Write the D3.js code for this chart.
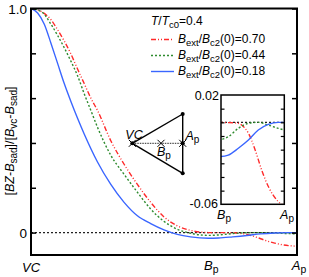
<!DOCTYPE html>
<html>
<head>
<meta charset="utf-8">
<script src="https://cdn.jsdelivr.net/npm/d3@7"></script>
<style>
  body { margin: 0; background: #fff; }
  svg { display: block; font-family: "Liberation Sans", Arial, sans-serif; }
</style>
</head>
<body>
<script>
// path coordinate along VC -> Bp -> Ap (Bp at 2/3)
var xRed = [0, 0.05, 0.075, 0.1, 0.125, 0.15, 0.175, 0.2, 0.225, 0.25, 0.3, 0.35, 0.4, 0.45, 0.5, 0.55, 0.6, 0.667, 0.75, 0.775, 0.811, 0.846, 0.881, 0.916, 0.968, 1];
var yRed = [1, 0.978, 0.95, 0.905, 0.855, 0.797, 0.73, 0.665, 0.6, 0.545, 0.41, 0.305, 0.215, 0.135, 0.07, 0.03, 0.01, 0.0, -0.0005, -0.002, -0.008, -0.02, -0.035, -0.047, -0.058, -0.061];

var xGreen = [0, 0.04, 0.075, 0.1, 0.125, 0.15, 0.175, 0.2, 0.225, 0.25, 0.3, 0.35, 0.4, 0.45, 0.5, 0.55, 0.6, 0.667, 0.705, 0.758, 0.811, 0.863, 0.916, 0.968, 1];
var yGreen = [1, 0.985, 0.93, 0.88, 0.825, 0.765, 0.7, 0.62, 0.545, 0.47, 0.345, 0.26, 0.18, 0.105, 0.05, 0.015, -0.003, -0.0125, -0.0105, -0.0044, -0.0007, 0, -0.002, -0.0044, -0.0056];

var xBlue = [0, 0.025, 0.05, 0.075, 0.1, 0.125, 0.15, 0.175, 0.2, 0.25, 0.3, 0.35, 0.4, 0.45, 0.5, 0.55, 0.6, 0.667, 0.705, 0.758, 0.811, 0.863, 0.916, 0.968, 1];
var yBlue = [1, 0.98, 0.93, 0.845, 0.755, 0.665, 0.585, 0.51, 0.44, 0.315, 0.215, 0.135, 0.075, 0.04, 0.012, -0.008, -0.019, -0.025, -0.024, -0.019, -0.013, -0.0056, -0.0015, 0, 0];

var legendLabels = ["0.70", "0.44", "0.18"];
var mainTicks = [0, 0.2, 0.4, 0.6, 0.8, 1.0];
var insetTicks = [0.01, 0, -0.01, -0.02, -0.03, -0.04, -0.05];

var width = 309, height = 277;

var svg = d3.select("body").append("svg")
    .attr("width", width)
    .attr("height", height);

var x = d3.scaleLinear().domain([0, 1]).range([31, 297]);
var y = d3.scaleLinear().domain([-0.1, 1.0]).range([255, 8.5]);

var series = [
  {xs: xRed, ys: yRed, color: "#ff2a2a", dash: "5,2,1,2,1,2", label: legendLabels[0]},
  {xs: xGreen, ys: yGreen, color: "#2e8b2e", dash: "2,2", label: legendLabels[1]},
  {xs: xBlue, ys: yBlue, color: "#3a66ff", dash: null, label: legendLabels[2]}
];
series.forEach(function(s) {
  s.pts = s.xs.map(function(v, i) { return [v, s.ys[i]]; });
});

// zero line
svg.append("line")
  .attr("x1", x(0)).attr("x2", x(1))
  .attr("y1", y(0)).attr("y2", y(0))
  .attr("stroke", "#222").attr("stroke-width", 1.2)
  .attr("stroke-dasharray", "2,2");

var line = d3.line()
  .x(function(d) { return x(d[0]); })
  .y(function(d) { return y(d[1]); })
  .curve(d3.curveMonotoneX);

var defs = svg.append("defs");
defs.append("clipPath").attr("id", "mainclip")
  .append("rect").attr("x", 31).attr("y", 8.5).attr("width", 266).attr("height", 246.5);

series.forEach(function(s) {
  svg.append("path")
    .attr("d", line(s.pts))
    .attr("clip-path", "url(#mainclip)")
    .attr("fill", "none")
    .attr("stroke", s.color)
    .attr("stroke-width", 1.4)
    .attr("stroke-dasharray", s.dash);
});

// frame
svg.append("rect")
  .attr("x", 31).attr("y", 8.5).attr("width", 266).attr("height", 246.5)
  .attr("fill", "none").attr("stroke", "#000").attr("stroke-width", 2);

// inward ticks left and right
svg.append("g").attr("transform", "translate(31,0)")
  .call(d3.axisRight(y).tickValues(mainTicks).tickSize(5).tickFormat(""))
  .call(function(g) { g.select(".domain").remove(); g.selectAll("line").attr("stroke-width", 1.5); });
svg.append("g").attr("transform", "translate(297,0)")
  .call(d3.axisLeft(y).tickValues(mainTicks).tickSize(5).tickFormat(""))
  .call(function(g) { g.select(".domain").remove(); g.selectAll("line").attr("stroke-width", 1.5); });

// tick labels
svg.append("text").attr("x", 27).attr("y", y(1) + 5).attr("text-anchor", "end")
  .attr("font-size", 13.5).text("1.0");
svg.append("text").attr("x", 27).attr("y", y(0) + 5).attr("text-anchor", "end")
  .attr("font-size", 13.5).text("0");

// x labels
function pointLabel(sel, main, sub, size) {
  sel.append("tspan").attr("font-style", "italic").text(main);
  if (sub) sel.append("tspan").attr("font-size", size * 0.8).attr("dy", 3).text(sub);
}
svg.append("text").attr("x", x(0)).attr("y", 272).attr("text-anchor", "middle")
  .attr("font-size", 13).call(pointLabel, "VC", null, 13);
svg.append("text").attr("x", x(2/3) + 3).attr("y", 270).attr("text-anchor", "middle")
  .attr("font-size", 13).call(pointLabel, "B", "p", 13);
svg.append("text").attr("x", x(1) + 2).attr("y", 270).attr("text-anchor", "middle")
  .attr("font-size", 13).call(pointLabel, "A", "p", 13);

// y label
var yl = svg.append("text")
  .attr("transform", "translate(14,141) rotate(-90)")
  .attr("text-anchor", "middle")
  .attr("font-size", 12.5);
yl.append("tspan").text("[");
yl.append("tspan").attr("font-style", "italic").text("B");
yl.append("tspan").attr("font-style", "italic").text("Z");
yl.append("tspan").text("-");
yl.append("tspan").attr("font-style", "italic").text("B");
yl.append("tspan").attr("font-size", 10).attr("dy", 3).text("sad");
yl.append("tspan").attr("dy", -3).text("]/[");
yl.append("tspan").attr("font-style", "italic").text("B");
yl.append("tspan").attr("font-size", 10).attr("dy", 3).text("vc");
yl.append("tspan").attr("dy", -3).text("-");
yl.append("tspan").attr("font-style", "italic").text("B");
yl.append("tspan").attr("font-size", 10).attr("dy", 3).text("sad");
yl.append("tspan").attr("dy", -3).text("]");

// legend
var lt = svg.append("text").attr("x", 151).attr("y", 25).attr("font-size", 12);
lt.append("tspan").attr("font-style", "italic").text("T");
lt.append("tspan").text("/");
lt.append("tspan").attr("font-style", "italic").text("T");
lt.append("tspan").attr("font-size", 9.5).attr("dy", 3).text("c0");
lt.append("tspan").attr("dy", -3).text("=0.4");

series.forEach(function(s, i) {
  var ly = 39.5 + i * 16;
  svg.append("line")
    .attr("x1", 151).attr("x2", 174).attr("y1", ly).attr("y2", ly)
    .attr("stroke", s.color).attr("stroke-width", 1.4)
    .attr("stroke-dasharray", s.dash);
  var t = svg.append("text").attr("x", 178).attr("y", ly + 3.5).attr("font-size", 12);
  t.append("tspan").attr("font-style", "italic").text("B");
  t.append("tspan").attr("font-size", 9.5).attr("dy", 3).text("ext");
  t.append("tspan").attr("dy", -3).text("/");
  t.append("tspan").attr("font-style", "italic").text("B");
  t.append("tspan").attr("font-size", 9.5).attr("dy", 3).text("c2");
  t.append("tspan").attr("dy", -3).text("(0)=" + s.label);
});

// triangle schematic
var tri = svg.append("g");
var pVC = [132.3, 143.3], pTop = [182.7, 114], pBot = [182.7, 173.3], pAp = [182.7, 143.3], pBp = [161, 143.3];
tri.append("line").attr("x1", pVC[0]).attr("y1", pVC[1]).attr("x2", pAp[0]).attr("y2", pAp[1])
  .attr("stroke", "#555").attr("stroke-width", 1.3).attr("stroke-dasharray", "1.5,1");
[[pVC, pTop], [pVC, pBot], [pTop, pBot]].forEach(function(e) {
  tri.append("line").attr("x1", e[0][0]).attr("y1", e[0][1]).attr("x2", e[1][0]).attr("y2", e[1][1])
    .attr("stroke", "#000").attr("stroke-width", 1.4);
});
[pVC, pTop, pBot, pAp].forEach(function(p) {
  tri.append("circle").attr("cx", p[0]).attr("cy", p[1]).attr("r", 2).attr("fill", "#000");
});
[pVC, pBp, pAp].forEach(function(p) {
  tri.append("path")
    .attr("d", "M" + (p[0] - 3.5) + "," + (p[1] - 3.5) + "l7,7M" + (p[0] - 3.5) + "," + (p[1] + 3.5) + "l7,-7")
    .attr("stroke", "#000").attr("stroke-width", 1);
});
tri.append("text").attr("x", 134).attr("y", 138.5).attr("text-anchor", "middle")
  .attr("font-size", 12.5).call(pointLabel, "VC", null, 12.5);
tri.append("text").attr("x", 185.5).attr("y", 140).attr("font-size", 12.5).call(pointLabel, "A", "p", 12.5);
tri.append("text").attr("x", 157).attr("y", 155.5).attr("font-size", 12.5).call(pointLabel, "B", "p", 12.5);

// inset
var ix = d3.scaleLinear().domain([2/3, 1]).range([221, 284.3]);
var iy = d3.scaleLinear().domain([-0.06, 0.02]).range([204.3, 95]);
var inset = svg.append("g");
inset.append("rect").attr("x", 221).attr("y", 95).attr("width", 63.3).attr("height", 109.3)
  .attr("fill", "#fff");
defs.append("clipPath").attr("id", "insetclip")
  .append("rect").attr("x", 221).attr("y", 95).attr("width", 63.3).attr("height", 109.3);

inset.append("line")
  .attr("x1", 221).attr("x2", 284.3).attr("y1", iy(0)).attr("y2", iy(0))
  .attr("stroke", "#222").attr("stroke-width", 1.2).attr("stroke-dasharray", "2,2");

var iline = d3.line()
  .x(function(d) { return ix(d[0]); })
  .y(function(d) { return iy(d[1]); })
  .curve(d3.curveMonotoneX);

series.forEach(function(s) {
  var pts = s.pts.filter(function(d) { return d[0] >= 0.6; });
  inset.append("path")
    .attr("d", iline(pts))
    .attr("clip-path", "url(#insetclip)")
    .attr("fill", "none")
    .attr("stroke", s.color)
    .attr("stroke-width", 1.4)
    .attr("stroke-dasharray", s.dash);
});

inset.append("g").attr("transform", "translate(221,0)")
  .call(d3.axisRight(iy).tickValues(insetTicks).tickSize(3.5).tickFormat(""))
  .call(function(g) { g.select(".domain").remove(); g.selectAll("line").attr("stroke-width", 1.2); });
inset.append("g").attr("transform", "translate(284.3,0)")
  .call(d3.axisLeft(iy).tickValues(insetTicks).tickSize(3.5).tickFormat(""))
  .call(function(g) { g.select(".domain").remove(); g.selectAll("line").attr("stroke-width", 1.2); });

inset.append("rect").attr("x", 221).attr("y", 95).attr("width", 63.3).attr("height", 109.3)
  .attr("fill", "none").attr("stroke", "#000").attr("stroke-width", 1.5);

inset.append("text").attr("x", 219).attr("y", iy(0.02) + 4.5).attr("text-anchor", "end")
  .attr("font-size", 12.5).text("0.02");
inset.append("text").attr("x", 218).attr("y", iy(-0.06) + 4).attr("text-anchor", "end")
  .attr("font-size", 12.5).text("-0.06");
inset.append("text").attr("x", 224).attr("y", 219).attr("text-anchor", "middle")
  .attr("font-size", 12.5).call(pointLabel, "B", "p", 12.5);
inset.append("text").attr("x", 287).attr("y", 219).attr("text-anchor", "middle")
  .attr("font-size", 12.5).call(pointLabel, "A", "p", 12.5);
</script>
</body>
</html>
